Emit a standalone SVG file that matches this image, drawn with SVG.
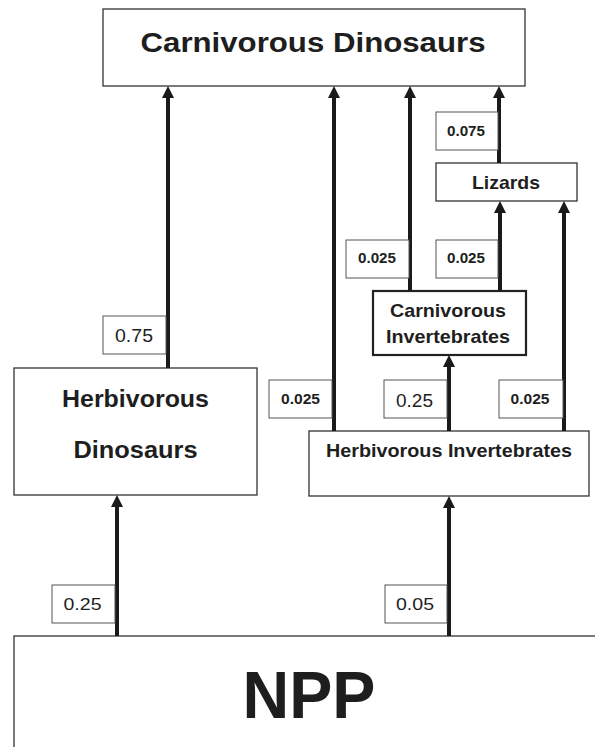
<svg xmlns="http://www.w3.org/2000/svg" width="595" height="747" viewBox="0 0 595 747">
<style>
.box{fill:#fff;stroke:#333;stroke-width:1.3}
.box2{fill:#fff;stroke:#222;stroke-width:2.2}
.lab{fill:#fff;stroke:#555;stroke-width:1}
.t{font-family:"Liberation Sans",Arial,sans-serif;fill:#1e1e1e;text-anchor:middle}
.b{font-weight:bold}
.conn{stroke:#1a1a1a;stroke-width:4;fill:none;marker-end:url(#ah)}
</style>
<defs>
<marker id="ah" viewBox="0 0 12 12" markerWidth="12" markerHeight="12" markerUnits="userSpaceOnUse" refX="4" refY="6" orient="auto">
<path d="M0,0 L12,6 L0,12 z" fill="#1a1a1a"/>
</marker>
</defs>
<rect x="0" y="0" width="595" height="747" fill="#fff"/>

<g id="npp">
<rect class="box" x="14" y="636" width="600" height="140"/>
<text class="t b" x="309" y="718" font-size="66" textLength="133" lengthAdjust="spacingAndGlyphs">NPP</text>
</g>

<g id="carnivorous-dinosaurs">
<rect class="box" x="103" y="9" width="422" height="77"/>
<text class="t b" x="313" y="52" font-size="28.5" textLength="345" lengthAdjust="spacingAndGlyphs">Carnivorous Dinosaurs</text>
</g>

<g id="lizards">
<rect class="box" x="436" y="163" width="141" height="38"/>
<text class="t b" x="506" y="189" font-size="18.5" textLength="68" lengthAdjust="spacingAndGlyphs">Lizards</text>
</g>

<g id="carnivorous-invertebrates">
<rect class="box2" x="373" y="291" width="153" height="64"/>
<text class="t b" x="448" y="317" font-size="19" textLength="116" lengthAdjust="spacingAndGlyphs">Carnivorous</text>
<text class="t b" x="448" y="343" font-size="19" textLength="124" lengthAdjust="spacingAndGlyphs">Invertebrates</text>
</g>

<g id="herbivorous-dinosaurs">
<rect class="box" x="14" y="368" width="243" height="127"/>
<text class="t b" x="135.5" y="407" font-size="23.5" textLength="147" lengthAdjust="spacingAndGlyphs">Herbivorous</text>
<text class="t b" x="135.5" y="458" font-size="23.5" textLength="124" lengthAdjust="spacingAndGlyphs">Dinosaurs</text>
</g>

<g id="herbivorous-invertebrates">
<rect class="box" x="309" y="431" width="280" height="65"/>
<text class="t b" x="449" y="457" font-size="19" textLength="246" lengthAdjust="spacingAndGlyphs">Herbivorous Invertebrates</text>
</g>

<g id="connectors">
<line class="conn" x1="117" y1="636" x2="117" y2="503"/>
<line class="conn" x1="449" y1="636" x2="449" y2="504"/>
<line class="conn" x1="168" y1="368" x2="168" y2="94"/>
<line class="conn" x1="334" y1="431" x2="334" y2="94"/>
<line class="conn" x1="410" y1="291" x2="410" y2="94"/>
<line class="conn" x1="499" y1="163" x2="499" y2="94"/>
<line class="conn" x1="449" y1="431" x2="449" y2="363"/>
<line class="conn" x1="500" y1="291" x2="500" y2="209"/>
<line class="conn" x1="564" y1="431" x2="564" y2="209"/>
</g>

<g id="labels">
<rect class="lab" x="436" y="112" width="62" height="38"/>
<text class="t b" x="466" y="136" font-size="14" textLength="38" lengthAdjust="spacingAndGlyphs">0.075</text>
<rect class="lab" x="346" y="240" width="63" height="38"/>
<text class="t b" x="377" y="263" font-size="14" textLength="38" lengthAdjust="spacingAndGlyphs">0.025</text>
<rect class="lab" x="436" y="240" width="62" height="38"/>
<text class="t b" x="466" y="263" font-size="14" textLength="38" lengthAdjust="spacingAndGlyphs">0.025</text>
<rect class="lab" x="103" y="316" width="63" height="38"/>
<text class="t" x="134" y="342" font-size="18" textLength="38" lengthAdjust="spacingAndGlyphs">0.75</text>
<rect class="lab" x="269" y="380" width="63" height="38"/>
<text class="t b" x="300.5" y="404" font-size="14" textLength="39" lengthAdjust="spacingAndGlyphs">0.025</text>
<rect class="lab" x="384" y="380" width="63" height="38"/>
<text class="t" x="414.5" y="407" font-size="19" textLength="37" lengthAdjust="spacingAndGlyphs">0.25</text>
<rect class="lab" x="499" y="380" width="64" height="38"/>
<text class="t b" x="530" y="404" font-size="14" textLength="39" lengthAdjust="spacingAndGlyphs">0.025</text>
<rect class="lab" x="52" y="585" width="63" height="38"/>
<text class="t" x="82.5" y="610" font-size="17" textLength="38" lengthAdjust="spacingAndGlyphs">0.25</text>
<rect class="lab" x="385" y="585" width="62" height="38"/>
<text class="t" x="415" y="610" font-size="17" textLength="38" lengthAdjust="spacingAndGlyphs">0.05</text>
</g>
</svg>
